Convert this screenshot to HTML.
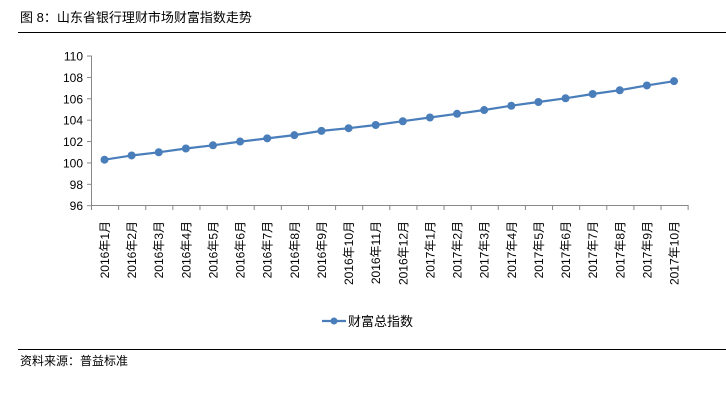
<!DOCTYPE html>
<html><head><meta charset="utf-8"><style>
body{margin:0;background:#fff;width:726px;height:402px;overflow:hidden}
svg{display:block}
text{font-family:"Liberation Sans","Noto Sans CJK SC",sans-serif;fill:#000}
</style></head><body>
<svg width="726" height="402" viewBox="0 0 726 402">
<text x="20" y="22" font-size="13">图 8：山东省银行理财市场财富指数走势</text>
<line x1="18" y1="32.5" x2="726" y2="32.5" stroke="#000" stroke-width="1"/>
<g id="yaxis" font-size="12" text-anchor="end"></g>
<g id="plot"></g>
<g id="xl" font-size="12"></g>
<line x1="322" y1="321" x2="346" y2="321" stroke="#4a7ebb" stroke-width="2.2"/>
<circle cx="334" cy="321" r="3.5" fill="#4a7ebb"/>
<text x="348" y="326" font-size="13">财富总指数</text>
<line x1="18" y1="349.5" x2="726" y2="349.5" stroke="#000" stroke-width="1"/>
<text x="20" y="365" font-size="12">资料来源：普益标准</text>
</svg>
<script>
var ns="http://www.w3.org/2000/svg";
function el(t,a,p,txt){var e=document.createElementNS(ns,t);for(var k in a)e.setAttribute(k,a[k]);if(txt)e.textContent=txt;document.getElementById(p).appendChild(e);}
function Y(v){return 205.7-(v-96)*10.69;}
for(var v=96;v<=110;v+=2){el("text",{x:83,y:Y(v)+4.5},"yaxis",""+v);el("line",{x1:87,x2:92,y1:Y(v),y2:Y(v),stroke:"#888"},"plot");}
el("line",{x1:91.5,x2:91.5,y1:56,y2:206,stroke:"#888"},"plot");
el("line",{x1:91,x2:688,y1:205.5,y2:205.5,stroke:"#888"},"plot");
var sp=27.12;
for(var i=0;i<=22;i++){var x=91.5+i*sp;el("line",{x1:x,x2:x,y1:205,y2:210,stroke:"#888"},"plot");}
var d=[100.3,100.7,101.0,101.35,101.65,102.0,102.3,102.6,103.0,103.25,103.55,103.9,104.25,104.6,104.95,105.35,105.7,106.05,106.45,106.8,107.25,107.65];
var pts=d.map(function(v,i){return (104.5+i*sp).toFixed(1)+","+Y(v).toFixed(1);});
el("polyline",{points:pts.join(" "),fill:"none",stroke:"#4a7ebb","stroke-width":2.2},"plot");
d.forEach(function(v,i){el("circle",{cx:104.5+i*sp,cy:Y(v),r:4,fill:"#4a7ebb"},"plot");});
for(var i=0;i<22;i++){var yr=i<12?2016:2017,m=i<12?i+1:i-11;var x=104.5+i*sp+4.5;
el("text",{x:0,y:0,"text-anchor":"end",transform:"translate("+x+",221) rotate(-90)"},"xl",yr+"年"+m+"月");}
</script>
</body></html>
